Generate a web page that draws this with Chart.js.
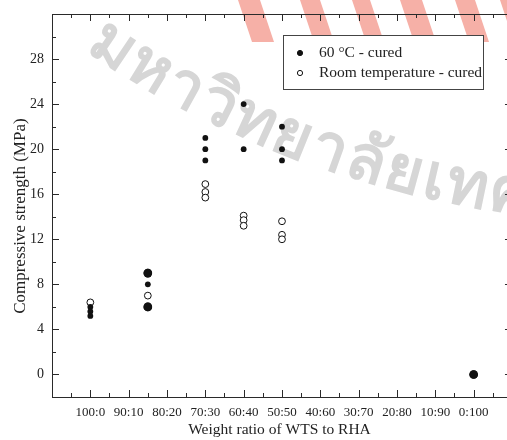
<!DOCTYPE html>
<html>
<head>
<meta charset="utf-8">
<script src="https://cdn.jsdelivr.net/npm/chart.js@4.4.1/dist/chart.umd.min.js"></script>
<style>
  html, body { margin: 0; padding: 0; background: #fff; overflow: hidden; }
  #wrap { width: 507px; height: 440px; }
</style>
</head>
<body>
<div id="wrap"><canvas id="strengthChart" width="507" height="440"></canvas></div>
<script>
// Weight ratio of WTS to RHA, category index 0..10
const ratioLabels = ['100:0', '90:10', '80:20', '70:30', '60:40', '50:50', '40:60', '30:70', '20:80', '10:90', '0:100'];
const xTicks = [0, 1, 2, 3, 4, 5, 6, 7, 8, 9, 10];
const yTicks = [0, 4, 8, 12, 16, 20, 24, 28];

// 60 °C cured (repeated values show as bigger dots)
const heatX = [0, 0, 0, 1.5, 1.5, 1.5, 1.5, 1.5, 3, 3, 3, 4, 4, 5, 5, 5, 10, 10];
const heatY = [6.0, 5.6, 5.2, 9.0, 9.0, 8.0, 6.0, 6.0, 21.0, 20.0, 19.0, 24.0, 20.0, 22.0, 20.0, 19.0, 0, 0];

// room temperature cured
const roomX = [0, 1.5, 3, 3, 3, 4, 4, 4, 5, 5, 5];
const roomY = [6.4, 7.0, 16.9, 16.2, 15.7, 14.1, 13.7, 13.2, 13.6, 12.4, 12.0];

const serif = "'Liberation Serif', 'DejaVu Serif', serif";

function dotRadius(ctx) {
    const d = ctx.dataset.data;
    const p = d[ctx.dataIndex];
    if (!p) return 3;
    const n = d.filter(q => q.x === p.x && q.y === p.y).length;
    return n > 1 ? 4.3 : 2.9;
}

// faint university watermark behind the plot
const watermark = {
    id: 'watermark',
    beforeDraw(chart) {
        const ctx = chart.ctx;
        ctx.save();
        // red stripes at the top
        ctx.fillStyle = 'rgba(236, 80, 60, 0.45)';
        [[238, 22], [300, 20], [352, 18], [400, 22], [455, 20], [500, 18]].forEach(([x0, w]) => {
            ctx.beginPath();
            ctx.moveTo(x0, 0);
            ctx.lineTo(x0 + w, 0);
            ctx.lineTo(x0 + w + 14, 42);
            ctx.lineTo(x0 + 14, 42);
            ctx.closePath();
            ctx.fill();
        });
        // gray text along an arc
        const text = 'มหาวิทยาลัยเทคโนโลยีสุรนารี';
        const cx = 647, cy = -783, r = 1005;
        let phi = 124 * Math.PI / 180;
        ctx.fillStyle = '#d6d6d6';
        ctx.font = "bold 64px 'Noto Sans', 'DejaVu Sans', sans-serif";
        ctx.textBaseline = 'alphabetic';
        const parts = (typeof Intl !== 'undefined' && Intl.Segmenter)
            ? Array.from(new Intl.Segmenter('th', {granularity: 'grapheme'}).segment(text), s => s.segment)
            : Array.from(text);
        parts.forEach(ch => {
            const w = ctx.measureText(ch).width;
            const px = cx + r * Math.cos(phi);
            const py = cy + r * Math.sin(phi);
            ctx.save();
            ctx.translate(px, py);
            ctx.rotate(phi - Math.PI / 2);
            ctx.fillText(ch, 0, 0);
            ctx.restore();
            phi -= (w + 2) / r;
        });
        ctx.restore();
    }
};

// box frame with inward major/minor ticks on all four sides
// (the right-hand axis sits just past the canvas edge, only its ticks show)
const frameTicks = {
    id: 'frameTicks',
    afterDatasetsDraw(chart) {
        const {ctx, chartArea: a, scales: {x, y}} = chart;
        const rightAxis = x.getPixelForValue(11);
        ctx.save();
        ctx.strokeStyle = '#2a2a2a';
        ctx.lineWidth = 1;
        ctx.beginPath();
        ctx.moveTo(a.left + 0.5, a.top + 0.5);
        ctx.lineTo(rightAxis, a.top + 0.5);
        ctx.moveTo(a.left + 0.5, a.top);
        ctx.lineTo(a.left + 0.5, a.bottom + 0.5);
        ctx.lineTo(rightAxis, a.bottom + 0.5);
        for (let v = -1; v <= 11 + 1e-9; v += 0.5) {
            const px = Math.round(x.getPixelForValue(v)) + 0.5;
            const len = Number.isInteger(v) ? 7 : 4;
            ctx.moveTo(px, a.bottom);
            ctx.lineTo(px, a.bottom - len);
            ctx.moveTo(px, a.top);
            ctx.lineTo(px, a.top + len);
        }
        for (let v = y.min; v <= y.max + 1e-9; v += 2) {
            const py = Math.round(y.getPixelForValue(v)) + 0.5;
            const len = v % 4 === 0 ? 7 : 4;
            ctx.moveTo(a.left, py);
            ctx.lineTo(a.left + len, py);
            ctx.moveTo(rightAxis, py);
            ctx.lineTo(rightAxis - len, py);
        }
        ctx.stroke();
        ctx.restore();
    }
};

// boxed legend inside the plot, top right
const boxLegend = {
    id: 'boxLegend',
    afterDraw(chart) {
        const ctx = chart.ctx;
        const bx = 283, by = 35, bw = 200, bh = 54;
        ctx.save();
        ctx.fillStyle = '#fff';
        ctx.strokeStyle = '#444';
        ctx.lineWidth = 1;
        ctx.fillRect(bx, by, bw, bh);
        ctx.strokeRect(bx + 0.5, by + 0.5, bw, bh);
        ctx.font = '15.5px ' + serif;
        ctx.textBaseline = 'middle';
        chart.data.datasets.forEach((ds, i) => {
            const my = by + 18 + i * 20;
            ctx.beginPath();
            ctx.arc(bx + 17, my, 2.6, 0, Math.PI * 2);
            ctx.fillStyle = ds.backgroundColor;
            ctx.fill();
            ctx.strokeStyle = '#111';
            ctx.stroke();
            ctx.fillStyle = '#222';
            ctx.fillText(ds.label, bx + 36, my);
        });
        ctx.restore();
    }
};

const ctx = document.getElementById('strengthChart').getContext('2d');
const strengthChart = new Chart(ctx, {
    type: 'scatter',
    data: {
        datasets: [{
            label: '60 °C - cured',
            data: heatX.map((x, i) => ({x: x, y: heatY[i]})),
            backgroundColor: '#111',
            borderColor: '#111',
            borderWidth: 0,
            pointRadius: dotRadius,
            pointHoverRadius: dotRadius
        }, {
            label: 'Room temperature - cured',
            data: roomX.map((x, i) => ({x: x, y: roomY[i]})),
            backgroundColor: '#fff',
            borderColor: '#111',
            borderWidth: 1,
            pointRadius: 3.4,
            pointHoverRadius: 3.4
        }]
    },
    options: {
        responsive: false,
        animation: false,
        layout: {
            autoPadding: false,
            padding: {top: 14, right: 0, bottom: 0, left: 0}
        },
        scales: {
            x: {
                type: 'linear',
                min: -1,
                max: 10.87,
                grid: {display: false, drawTicks: false, tickLength: 0},
                border: {display: false},
                afterFit: s => { s.height = 43; s.paddingLeft = 0; s.paddingRight = 0; },
                afterBuildTicks: s => { s.ticks = xTicks.map(v => ({value: v})); },
                ticks: {
                    autoSkip: false,
                    maxRotation: 0,
                    padding: 8,
                    color: '#222',
                    font: {family: serif, size: 13},
                    callback: v => ratioLabels[v]
                },
                title: {
                    display: true,
                    text: 'Weight ratio of WTS to RHA',
                    color: '#222',
                    font: {family: serif, size: 15.5},
                    padding: {top: 0, bottom: 1}
                }
            },
            y: {
                min: -2,
                max: 32,
                grid: {display: false, drawTicks: false, tickLength: 0},
                border: {display: false},
                afterFit: s => { s.width = 52; s.paddingTop = 0; s.paddingBottom = 0; },
                afterBuildTicks: s => { s.ticks = yTicks.map(v => ({value: v})); },
                ticks: {
                    padding: 8,
                    color: '#222',
                    font: {family: serif, size: 14}
                },
                title: {
                    display: true,
                    // trailing spaces nudge the rotated title down a little
                    text: 'Compressive strength (MPa)\u00a0\u00a0\u00a0\u00a0\u00a0',
                    color: '#222',
                    font: {family: serif, size: 17},
                    padding: {top: 10, bottom: 0}
                }
            }
        },
        plugins: {
            legend: {display: false},
            tooltip: {enabled: false}
        }
    },
    plugins: [watermark, frameTicks, boxLegend]
});
</script>
</body>
</html>
